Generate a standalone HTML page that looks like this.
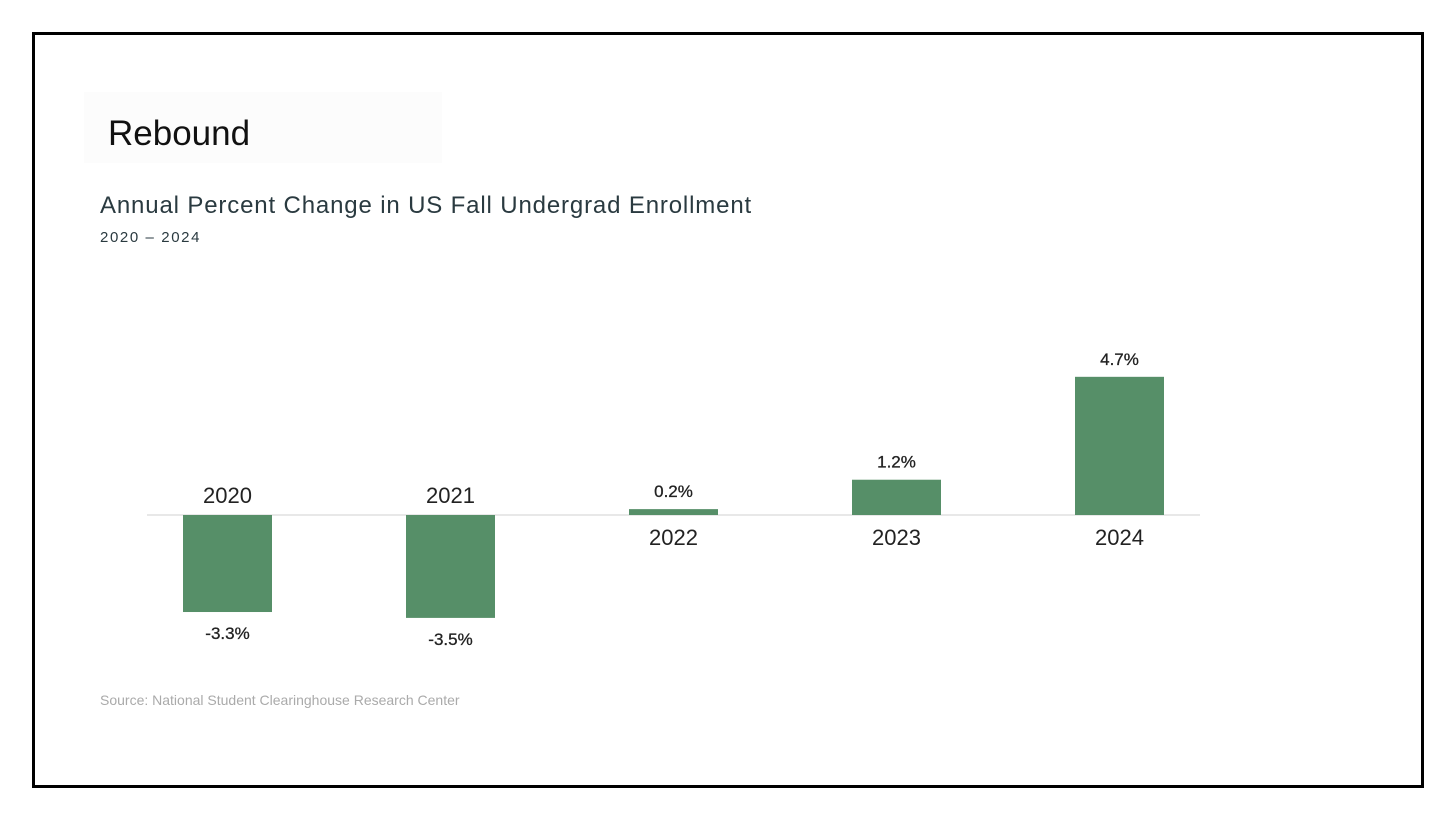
<!DOCTYPE html>
<html><head><meta charset="utf-8"><style>
body{margin:0;background:#fff;width:1456px;height:819px;overflow:hidden;font-family:"Liberation Sans",sans-serif}
#frame{position:absolute;left:32px;top:32px;width:1386px;height:750px;border:3px solid #000}
#tbox{position:absolute;left:84px;top:92px;width:358px;height:71px;background:#fcfcfc}
#title{position:absolute;left:108px;top:114px;font-size:35px;color:#111;font-weight:300}
#sub{position:absolute;left:100px;top:192px;font-size:24px;color:#2a3a40;letter-spacing:0.85px}
#sub2{position:absolute;left:100px;top:229px;font-size:15px;color:#2a3a40;letter-spacing:1.6px}
#src{position:absolute;left:100px;top:692px;font-size:14px;color:#aaa}
svg{position:absolute;left:0;top:0}
</style></head><body>
<div id="frame"></div>
<div id="tbox"></div>
<div id="title">Rebound</div>
<div id="sub">Annual Percent Change in US Fall Undergrad Enrollment</div>
<div id="sub2">2020 – 2024</div>
<div id="src">Source: National Student Clearinghouse Research Center</div>
<svg id="chart" width="1456" height="819"></svg>
<script>
const categories=["2020","2021","2022","2023","2024"];
const values=[-3.3,-3.5,0.2,1.2,4.7];
const valueLabels=["-3.3%","-3.5%","0.2%","1.2%","4.7%"];
const NS="http://www.w3.org/2000/svg";
const svg=document.getElementById('chart');
const baseY=515, pxPerUnit=29.4, x0=227.5, step=223, bw=89;
const y=v=>baseY-v*pxPerUnit;
const xc=i=>x0+i*step;
function mk(t,a){const e=document.createElementNS(NS,t);for(const k in a)e.setAttribute(k,a[k]);svg.appendChild(e);return e;}
const axis=mk('line',{x1:147,x2:1200,y1:baseY,y2:baseY,stroke:'#d0d0d0','stroke-width':1});


values.forEach((v,i)=>{
  const top=Math.min(y(v),baseY),h=Math.abs(y(v)-baseY);
  const r=mk('rect',{x:xc(i)-bw/2,y:top,width:bw,height:h,fill:'#568f68'});
  
  
  const vl=mk('text',{x:xc(i),y:v<0?y(v)+27:y(v)-12,'text-anchor':'middle','font-size':17,fill:'#222','stroke':'#222','stroke-width':0.3,'font-family':'Liberation Sans, sans-serif'});
  vl.textContent=valueLabels[i];
  
  
  const cl=mk('text',{x:xc(i),y:v<0?baseY-12:baseY+30,'text-anchor':'middle','font-size':22,fill:'#222','font-family':'Liberation Sans, sans-serif'});
  cl.textContent=categories[i];
  
  
});
</script>
</body></html>
